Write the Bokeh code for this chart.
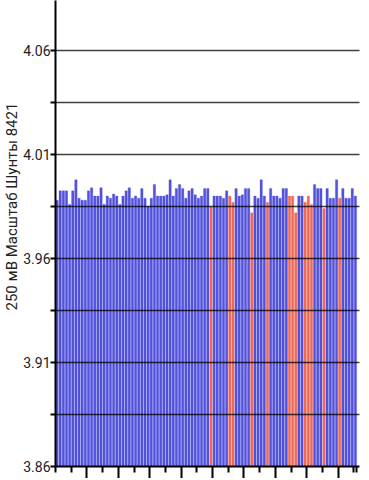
from bokeh.plotting import figure
from bokeh.models import FixedTicker, Title, ColumnDataSource
from bokeh.embed import file_html
from bokeh.resources import INLINE

# ---- data ----
voltages = [
    3.988, 3.9925, 3.9925, 3.9925, 3.986, 3.9925, 3.9978, 3.989, 3.988, 3.988,
    3.9925, 3.994, 3.990, 3.990, 3.994, 3.986, 3.990, 3.989, 3.991, 3.990,
    3.986, 3.990, 3.9925, 3.994, 3.989, 3.990, 3.989, 3.9936, 3.989, 3.985,
    3.989, 3.9956, 3.990, 3.990, 3.990, 3.9906, 3.9978, 3.990, 3.9936, 3.9956,
    3.9936, 3.989, 3.9925, 3.9936, 3.9906, 3.989, 3.990, 3.9936, 3.9936, 3.985,
    3.990, 3.990, 3.990, 3.989, 3.9925, 3.990, 3.987, 3.9936, 3.990, 3.9906,
    3.9936, 3.9936, 3.982, 3.990, 3.989, 3.9978, 3.990, 3.987, 3.9936, 3.990,
    3.990, 3.989, 3.9936, 3.9936, 3.990, 3.990, 3.982, 3.990, 3.990, 3.987,
    3.990, 3.986, 3.9956, 3.9936, 3.9936, 3.984, 3.9936, 3.989, 3.989, 3.9978,
    3.989, 3.9936, 3.989, 3.989, 3.9936, 3.990,
]
red_cells = [49, 55, 56, 62, 67, 74, 75, 76, 79, 80, 81, 85, 90]
y_ticks = [3.86, 3.885, 3.91, 3.935, 3.96, 3.985, 4.01, 4.035, 4.06]
y_tick_labels = ["3.86", "", "3.91", "", "3.96", "", "4.01", "", "4.06"]
x_major_ticks = [10, 20, 30, 40, 50, 60, 70, 80, 90]
x_minor_ticks = [0, 5, 15, 25, 35, 45, 55, 65, 75, 85, 95, 96]
y_min, y_max = 3.86, 4.084
axis_title = "250 мВ Масштаб  Шунты 8421"

BLUE = "#5252dc"
RED = "#ee6a58"

n = len(voltages)
xs = [i + 0.5 for i in range(n)]
colors = [RED if i in red_cells else BLUE for i in range(n)]
src = ColumnDataSource(dict(x=xs, top=voltages, color=colors))

p = figure(
    frame_width=304, frame_height=466,
    x_range=(0, 96.8), y_range=(y_min, y_max),
    output_backend="svg", toolbar_location=None,
    min_border=0, min_border_left=54, min_border_right=4,
    min_border_top=0, min_border_bottom=0,
)
p.background_fill_color = "white"
p.outline_line_color = None

p.vbar(x="x", top="top", bottom=y_min, width=0.76, source=src,
       fill_color="color", line_color="color", line_width=0.3)

# y axis
p.yaxis.ticker = FixedTicker(ticks=y_ticks)
p.yaxis.major_label_overrides = {t: l for t, l in zip(y_ticks, y_tick_labels)}
p.yaxis.major_label_text_font = "Roboto"
p.yaxis.major_label_text_font_size = "14px"
p.yaxis.major_label_text_color = "#222222"
p.yaxis.major_label_standoff = 0
p.yaxis.major_tick_out = 5
p.yaxis.major_tick_in = 0
p.yaxis.minor_tick_line_color = None
p.yaxis.axis_line_width = 2
p.yaxis.major_tick_line_width = 2
p.yaxis.axis_line_color = "black"

# x axis
p.xaxis.ticker = FixedTicker(ticks=x_major_ticks, minor_ticks=x_minor_ticks)
p.xaxis.major_label_overrides = {t: "" for t in x_major_ticks}
p.xaxis.major_label_standoff = 0
p.xaxis.major_tick_out = 12
p.xaxis.major_tick_in = 0
p.xaxis.minor_tick_out = 6
p.xaxis.minor_tick_in = 0
p.xaxis.axis_line_width = 2
p.xaxis.major_tick_line_width = 2
p.xaxis.minor_tick_line_width = 2
p.xaxis.axis_line_color = "black"

# grid
p.xgrid.visible = False
p.ygrid.ticker = FixedTicker(ticks=y_ticks)
p.ygrid.grid_line_color = "black"
p.ygrid.grid_line_alpha = 0.75
p.ygrid.grid_line_width = 1.5
p.ygrid.level = "overlay"

title = Title(text=axis_title, align="left", offset=156, standoff=0,
              text_font="Roboto", text_font_size="15px",
              text_font_style="normal", text_color="#222222")
p.add_layout(title, "left")

open("out.html", "w").write(file_html(p, INLINE))
